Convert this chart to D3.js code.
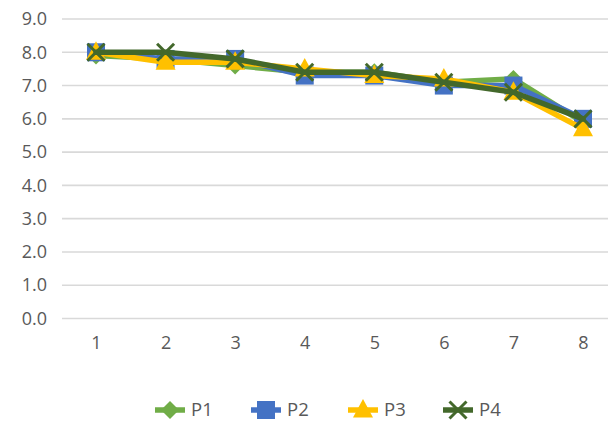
<!DOCTYPE html>
<html>
<head>
<meta charset="utf-8">
<script src="https://cdn.jsdelivr.net/npm/d3@7"></script>
<style>
  html, body { margin: 0; padding: 0; background: #fff; }
  svg { display: block; }
  text { font-family: "Open Sans", "Liberation Sans", sans-serif; fill: #595959; }
</style>
</head>
<body>
<div id="chart"></div>
<script>
// Categories and series values
const categories = [1, 2, 3, 4, 5, 6, 7, 8];
const p1 = [7.9, 7.8, 7.6, 7.4, 7.4, 7.1, 7.2, 5.9];
const p2 = [8.0, 7.8, 7.8, 7.3, 7.3, 7.0, 7.0, 6.0];
const p3 = [8.0, 7.7, 7.7, 7.5, 7.3, 7.2, 6.8, 5.7];
const p4 = [8.0, 8.0, 7.8, 7.4, 7.4, 7.1, 6.8, 6.0];
const seriesNames = ["P1", "P2", "P3", "P4"];
const yTicks = [0, 1, 2, 3, 4, 5, 6, 7, 8, 9];

const colors = { P1: "#70AD47", P2: "#4472C4", P3: "#FFC000", P4: "#43682B" };
const shapes = { P1: "diamond", P2: "square", P3: "triangle", P4: "cross" };
const seriesValues = { P1: p1, P2: p2, P3: p3, P4: p4 };

const W = 608, H = 421;
const FONT = "'Open Sans', 'Liberation Sans', sans-serif";
const svg = d3.select("#chart").append("svg").attr("width", W).attr("height", H);

const x = d3.scalePoint().domain(categories).range([96, 583]);
const y = d3.scaleLinear().domain([0, 9]).range([318.5, 19]);

// Horizontal gridlines
svg.append("g").selectAll("line").data(yTicks).join("line")
  .attr("x1", 62).attr("x2", W)
  .attr("y1", d => y(d)).attr("y2", d => y(d))
  .attr("stroke", "#D9D9D9").attr("stroke-width", 1.6);

// Y axis labels
const yAxis = d3.axisLeft(y).tickValues(yTicks).tickFormat(d3.format(".1f")).tickSize(0).tickPadding(0);
const gy = svg.append("g").attr("transform", "translate(47,0)").call(yAxis);
gy.select(".domain").remove();
gy.selectAll("text").attr("font-size", 18).attr("fill", "#595959").attr("font-family", FONT);

// X axis labels
const xAxis = d3.axisBottom(x).tickSize(0).tickPadding(0);
const gx = svg.append("g").attr("transform", "translate(0,336)").call(xAxis);
gx.select(".domain").remove();
gx.selectAll("text").attr("font-size", 18).attr("fill", "#595959").attr("font-family", FONT);

// Marker drawing
function drawMarker(g, shape, color) {
  if (shape === "diamond") {
    g.append("path").attr("d", "M0,-9L9,0L0,9L-9,0Z").attr("fill", color);
  } else if (shape === "square") {
    g.append("rect").attr("x", -9).attr("y", -9).attr("width", 18).attr("height", 18).attr("fill", color);
  } else if (shape === "triangle") {
    g.append("path").attr("d", "M0,-11L10,7.5L-10,7.5Z").attr("fill", color);
  } else if (shape === "cross") {
    g.append("path").attr("d", "M-8.5,-8.5L8.5,8.5M-8.5,8.5L8.5,-8.5")
      .attr("stroke", color).attr("stroke-width", 3).attr("fill", "none");
  }
}

const line = d3.line().x((d, i) => x(categories[i])).y(d => y(d));

seriesNames.forEach(name => {
  const vals = seriesValues[name];
  const g = svg.append("g");
  g.append("path").datum(vals).attr("d", line)
    .attr("fill", "none").attr("stroke", colors[name])
    .attr("stroke-width", 5.5).attr("stroke-linejoin", "round").attr("stroke-linecap", "round");
  vals.forEach((v, i) => {
    const m = g.append("g").attr("transform", `translate(${x(categories[i])},${y(v)})`);
    drawMarker(m, shapes[name], colors[name]);
  });
});

// Legend
const legendX = [170, 266, 363, 458];
const legendY = 410;
seriesNames.forEach((name, i) => {
  const g = svg.append("g").attr("transform", `translate(${legendX[i]},${legendY})`);
  g.append("line").attr("x1", -15).attr("x2", 15).attr("y1", 0).attr("y2", 0)
    .attr("stroke", colors[name]).attr("stroke-width", 5.5);
  drawMarker(g, shapes[name], colors[name]);
  g.append("text").attr("x", 21).attr("y", 0).attr("dy", "0.35em")
    .attr("font-size", 18.5).text(name);
});
</script>
</body>
</html>
